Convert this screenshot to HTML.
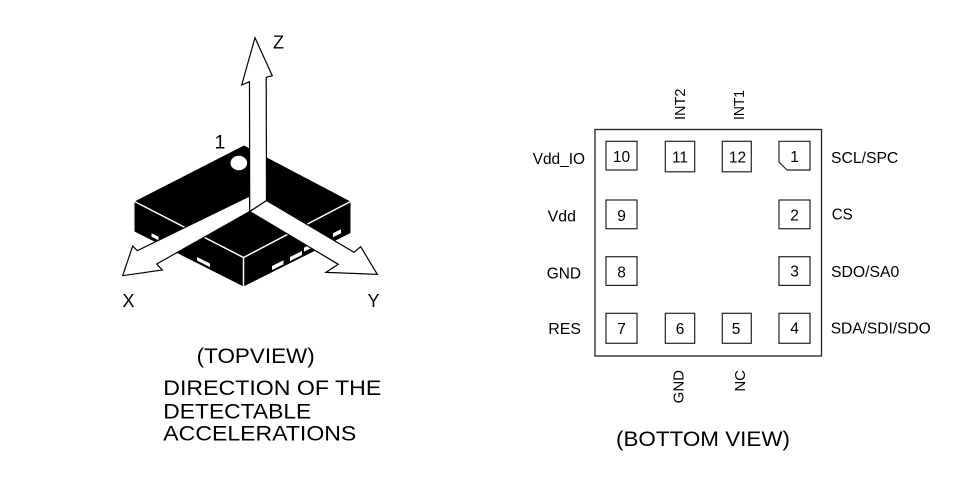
<!DOCTYPE html>
<html>
<head>
<meta charset="utf-8">
<style>
html,body{margin:0;padding:0;background:#fff;}
svg{display:block;}
text{font-family:"Liberation Sans",Arial,sans-serif;fill:#000;}
</style>
</head>
<body>
<svg width="959" height="486" viewBox="0 0 959 486" xmlns="http://www.w3.org/2000/svg">
  <rect x="0" y="0" width="959" height="486" fill="#fff"/>

  <!-- ===== LEFT: chip with axes ===== -->
  <!-- chip body -->
  <polygon points="244,145.5 350.5,201.5 350.5,233 243.5,286.5 134.5,231.5 134.5,201.5" fill="#000"/>
  <!-- white edges -->
  <polyline points="134.5,201.5 243.5,257.5 350.5,201.5" fill="none" stroke="#fff" stroke-width="1.5"/>
  <line x1="243.5" y1="257.5" x2="243.5" y2="286.5" stroke="#fff" stroke-width="1.5"/>
  <!-- pads on left face (bottom edge y = 231.5 + 0.505*(x-134.5)) -->
  <polygon points="151.5,233.3 158.5,236.8 158.5,240.3 151.5,236.8" fill="#fff"/>
  <polygon points="197,257 210,263.6 210,267.1 197,260.5" fill="#fff"/>
  <!-- pads on right face (bottom edge y = 286.5 - 0.5*(x-243.5)) -->
  <polygon points="272,266 283.5,260.3 283.5,264.3 272,270" fill="#fff"/>
  <polygon points="290,257 302,251 302,255 290,261" fill="#fff"/>
  <polygon points="304,247.6 313,243.1 313,247.1 304,251.6" fill="#fff"/>
  <polygon points="333,233.3 341,229.3 341,233.3 333,237.3" fill="#fff"/>
  <!-- pin 1 marker -->
  <ellipse cx="238.8" cy="163" rx="8.3" ry="7.3" fill="#fff"/>

  <!-- X arrow -->
  <polygon points="249.7,196 137.3,250.7 132.7,246 122.7,275.7 162.3,270 156.7,264 249.7,211.5" fill="#fff" stroke="#000" stroke-width="1.2" stroke-linejoin="miter"/>
  <!-- Y arrow -->
  <polygon points="266.5,200.5 354,252.3 360.7,246.7 377.3,274.3 326,272.3 338.3,264.3 249.7,211.5" fill="#fff" stroke="#000" stroke-width="1.2" stroke-linejoin="miter"/>
  <!-- Z arrow -->
  <polygon points="249.7,211.5 249.5,81.7 241.7,85 255,37.7 272.3,75.7 266.2,77.3 266.5,200.5" fill="#fff" stroke="#000" stroke-width="1.2" stroke-linejoin="miter"/>

  <!-- axis labels -->
  <text x="273" y="48.7" font-size="18">Z</text>
  <text x="122.5" y="307" font-size="18">X</text>
  <text x="367.5" y="307" font-size="18">Y</text>
  <text x="214.5" y="148.3" font-size="19.5">1</text>

  <!-- left captions -->
  <text x="196.7" y="363" font-size="21.5" textLength="118" lengthAdjust="spacingAndGlyphs">(TOPVIEW)</text>
  <text x="163.3" y="395" font-size="21.5" textLength="218" lengthAdjust="spacingAndGlyphs">DIRECTION OF THE</text>
  <text x="163.3" y="418.3" font-size="21.5" textLength="148" lengthAdjust="spacingAndGlyphs">DETECTABLE</text>
  <text x="163.3" y="440.7" font-size="21.5" textLength="193" lengthAdjust="spacingAndGlyphs">ACCELERATIONS</text>

  <!-- ===== RIGHT: bottom view ===== -->
  <rect x="595" y="129.5" width="226.5" height="226.5" fill="none" stroke="#222" stroke-width="1.3"/>

  <!-- pads -->
  <g fill="none" stroke="#222" stroke-width="1.2">
    <rect x="606" y="141.3" width="31" height="28.7"/>
    <rect x="665.3" y="141.3" width="29.4" height="30.5"/>
    <rect x="722.3" y="141.3" width="29" height="30.5"/>
    <path d="M779,141.3 H810 V170 H787 L779,162 Z"/>
    <rect x="606" y="200" width="31" height="28.7"/>
    <rect x="779" y="200" width="31" height="28.7"/>
    <rect x="606" y="256.7" width="31" height="28.7"/>
    <rect x="779" y="256.7" width="31" height="28.7"/>
    <rect x="606" y="313.3" width="31" height="30"/>
    <rect x="665.3" y="313.3" width="29.4" height="30"/>
    <rect x="722.3" y="313.3" width="29" height="30"/>
    <rect x="779" y="313.3" width="31" height="30"/>
  </g>

  <!-- pad numbers -->
  <g font-size="15.5" text-anchor="middle">
    <text x="621.5" y="162">10</text>
    <text x="680" y="162.5">11</text>
    <text x="737.5" y="162.5">12</text>
    <text x="794.5" y="162">1</text>
    <text x="621.5" y="221">9</text>
    <text x="794.5" y="220.5">2</text>
    <text x="621.5" y="277.3">8</text>
    <text x="794.5" y="276.5">3</text>
    <text x="621.5" y="334">7</text>
    <text x="680" y="334">6</text>
    <text x="736" y="334">5</text>
    <text x="794.5" y="333.5">4</text>
  </g>

  <!-- left labels -->
  <g font-size="15.5">
    <text x="532.7" y="164" textLength="52.3" lengthAdjust="spacingAndGlyphs">Vdd_IO</text>
    <text x="547.7" y="221.7" textLength="28.3" lengthAdjust="spacingAndGlyphs">Vdd</text>
    <text x="546.7" y="278.5" textLength="34.3" lengthAdjust="spacingAndGlyphs">GND</text>
    <text x="548.3" y="334" textLength="32.7" lengthAdjust="spacingAndGlyphs">RES</text>
  </g>
  <!-- right labels -->
  <g font-size="15.5">
    <text x="831" y="163" textLength="67.3" lengthAdjust="spacingAndGlyphs">SCL/SPC</text>
    <text x="831.7" y="219.7" textLength="21" lengthAdjust="spacingAndGlyphs">CS</text>
    <text x="831" y="277" textLength="68.3" lengthAdjust="spacingAndGlyphs">SDO/SA0</text>
    <text x="830.7" y="333.3" textLength="100" lengthAdjust="spacingAndGlyphs">SDA/SDI/SDO</text>
  </g>

  <!-- rotated labels -->
  <g font-size="15">
    <text transform="translate(685,120) rotate(-90)" x="0" y="0" textLength="31.5" lengthAdjust="spacingAndGlyphs">INT2</text>
    <text transform="translate(744,120) rotate(-90)" x="0" y="0" textLength="30" lengthAdjust="spacingAndGlyphs">INT1</text>
    <text transform="translate(683.5,370) rotate(-90)" x="0" y="0" text-anchor="end">GND</text>
    <text transform="translate(745,370) rotate(-90)" x="0" y="0" text-anchor="end">NC</text>
  </g>

  <!-- bottom caption -->
  <text x="616" y="446" font-size="21" textLength="174" lengthAdjust="spacingAndGlyphs">(BOTTOM VIEW)</text>
</svg>
</body>
</html>
